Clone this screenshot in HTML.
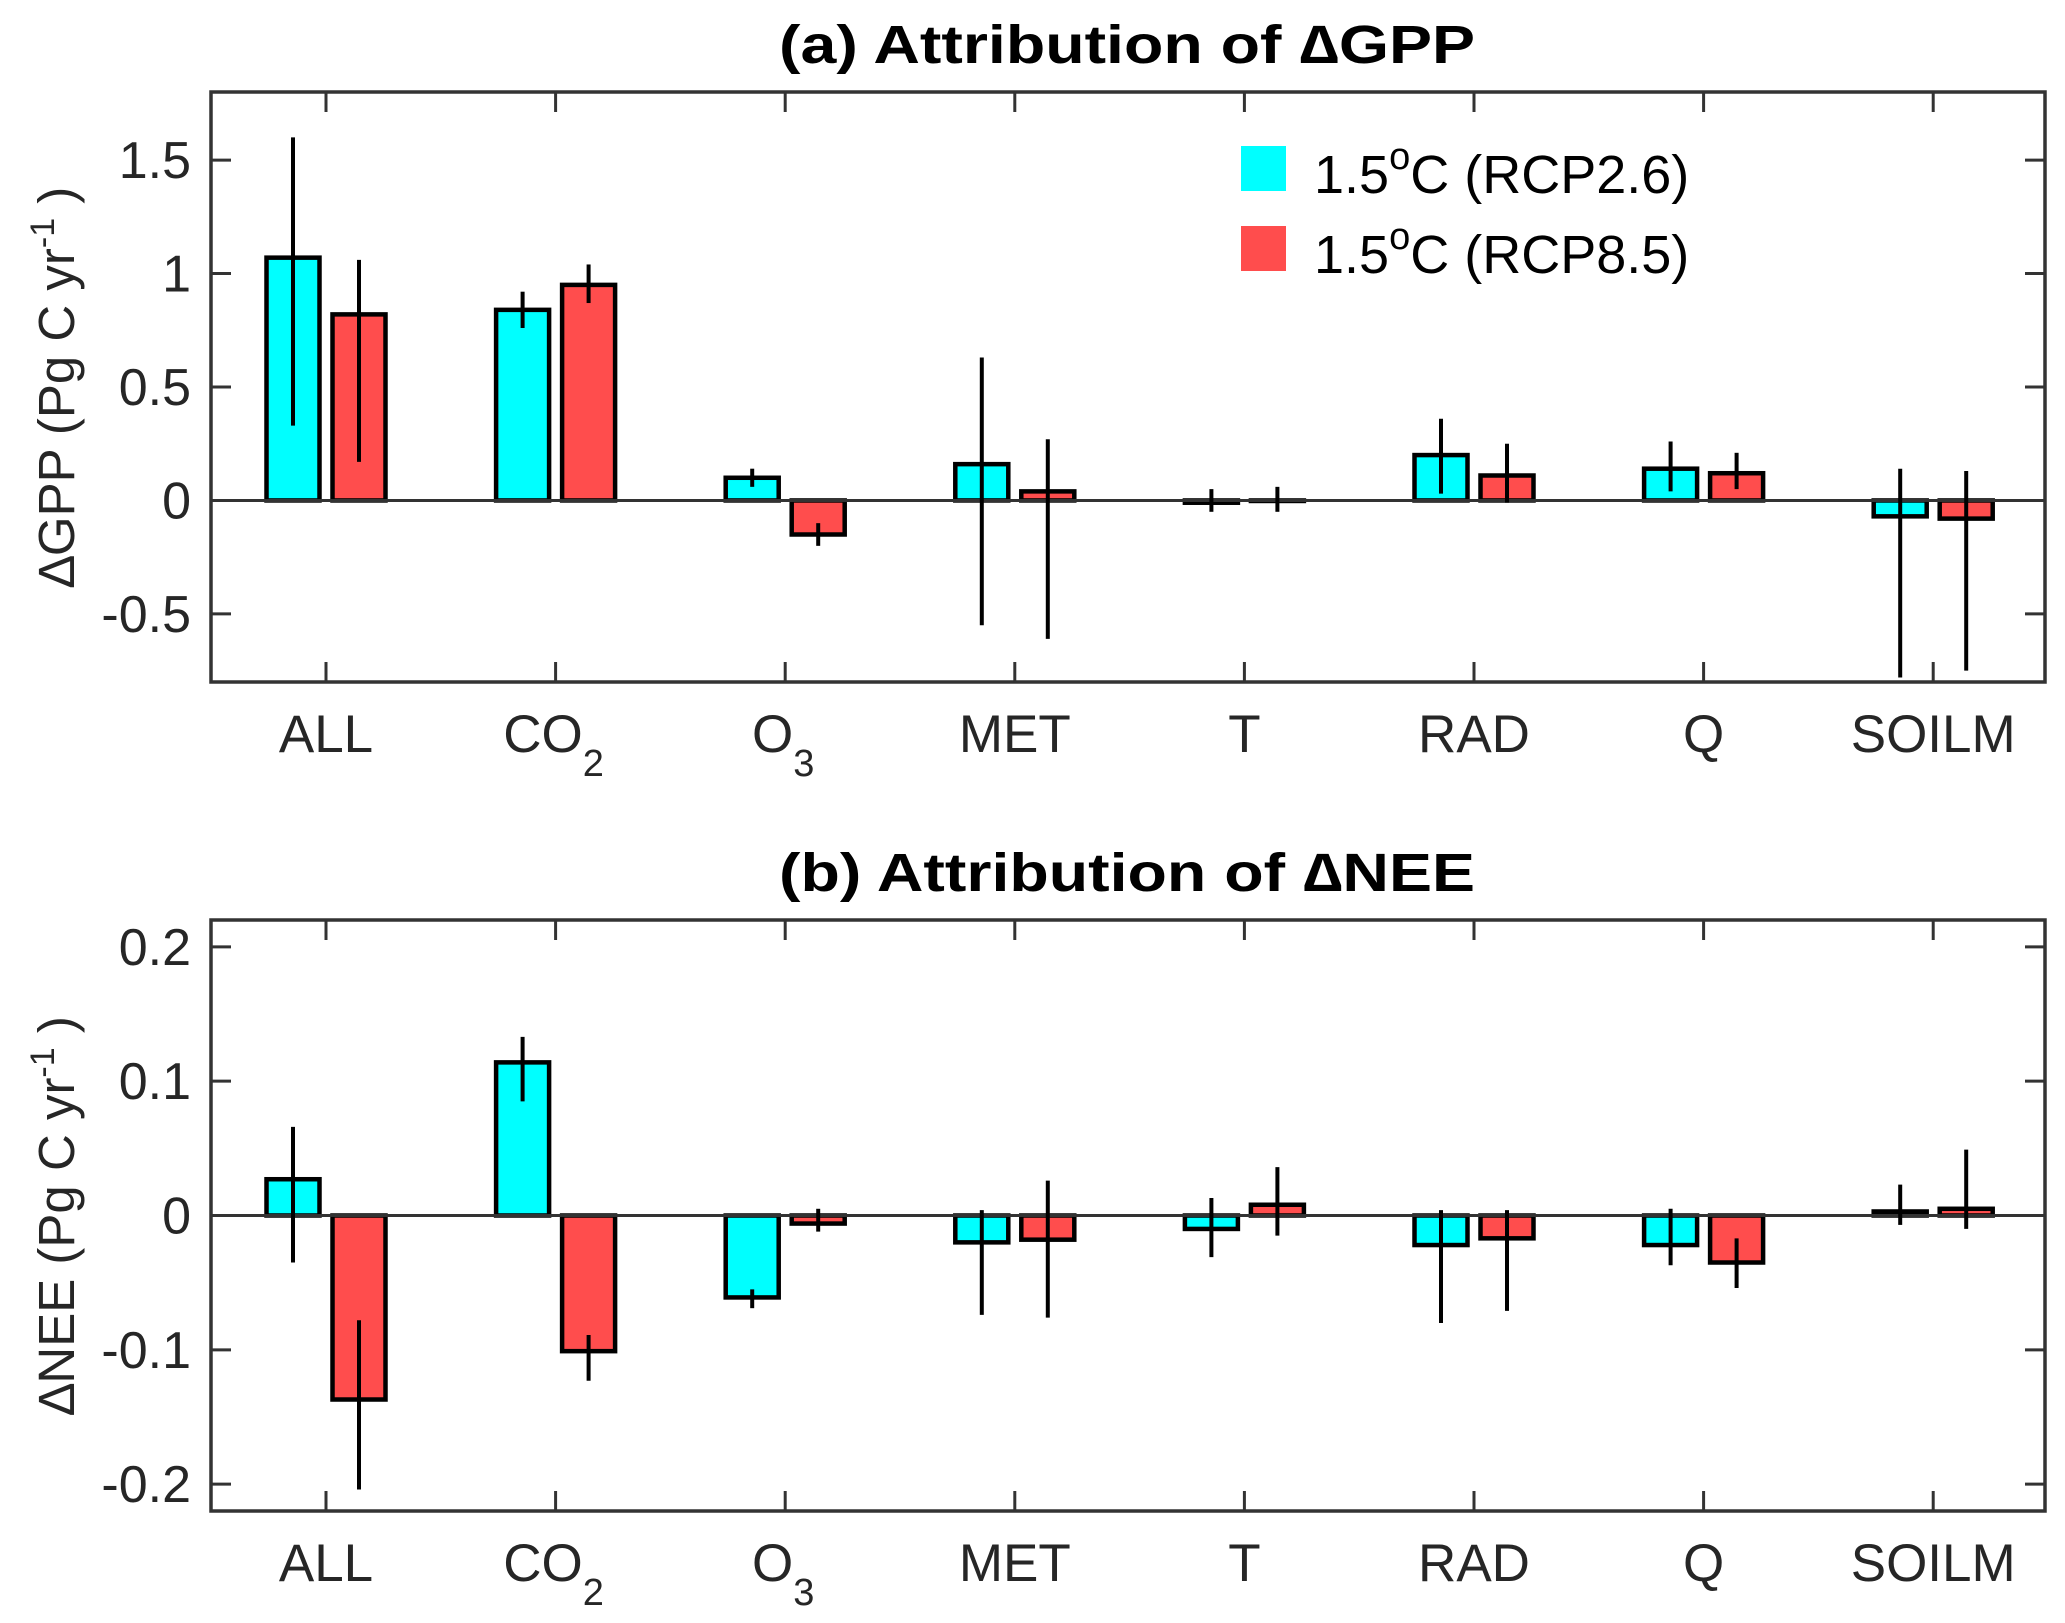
<!DOCTYPE html>
<html><head><meta charset="utf-8"><style>
html,body{margin:0;padding:0;background:#fff;}
svg{display:block;font-family:"Liberation Sans",Arial,sans-serif;}
</style></head><body>
<svg id="chart" width="2065" height="1623" viewBox="0 0 2065 1623" xmlns="http://www.w3.org/2000/svg">
<g id="pa"></g>
<g id="pb"></g>
<g>
  <rect x="1241" y="146" width="45" height="45" fill="#00ffff"/>
  <text x="1314" y="193" font-size="54" fill="#000">1.5<tspan dy="-24" font-size="38">o</tspan><tspan dy="24">C (RCP2.6)</tspan></text>
  <rect x="1241" y="226" width="45" height="45" fill="#ff4d4d"/>
  <text x="1314" y="273" font-size="54" fill="#000">1.5<tspan dy="-24" font-size="38">o</tspan><tspan dy="24">C (RCP8.5)</tspan></text>
</g>
</svg>
<script>
const categories = ["ALL","CO2","O3","MET","T","RAD","Q","SOILM"];
const gppRcp26 = [1.07,0.84,0.10,0.16,-0.01,0.20,0.14,-0.07];
const gppRcp26Hi = [1.60,0.92,0.14,0.63,0.05,0.36,0.26,0.14];
const gppRcp26Lo = [0.33,0.76,0.06,-0.55,-0.05,0.03,0.04,-0.78];
const gppRcp85 = [0.82,0.95,-0.15,0.04,0.00,0.11,0.12,-0.08];
const gppRcp85Hi = [1.06,1.04,-0.10,0.27,0.06,0.25,0.21,0.13];
const gppRcp85Lo = [0.17,0.87,-0.20,-0.61,-0.05,-0.01,0.05,-0.75];
const neeRcp26 = [0.027,0.114,-0.061,-0.020,-0.010,-0.022,-0.022,0.003];
const neeRcp26Hi = [0.066,0.133,-0.055,0.004,0.013,0.004,0.005,0.023];
const neeRcp26Lo = [-0.035,0.085,-0.069,-0.074,-0.031,-0.080,-0.037,-0.007];
const neeRcp85 = [-0.137,-0.101,-0.006,-0.018,0.008,-0.017,-0.035,0.005];
const neeRcp85Hi = [-0.078,-0.089,0.005,0.026,0.036,0.004,-0.017,0.049];
const neeRcp85Lo = [-0.204,-0.123,-0.012,-0.076,-0.015,-0.071,-0.054,-0.010];
const gppTicks = [-0.5,0,0.5,1,1.5];
const gppTickLabels = ["-0.5","0","0.5","1","1.5"];
const neeTicks = [-0.2,-0.1,0,0.1,0.2];
const neeTickLabels = ["-0.2","-0.1","0","0.1","0.2"];

const NS="http://www.w3.org/2000/svg";
function mk(parent,tag,attrs){const e=document.createElementNS(NS,tag);for(const k in attrs)e.setAttribute(k,attrs[k]);parent.appendChild(e);return e;}
const L=211,R=2045;
function xScale(i){return 326+i*229.6;}

function panel(g,top,bottom,ymin,ymax,s1,h1,l1,s2,h2,l2,ticks,tickLabels,title,titleY,ylab){
  const y=v=>bottom-(v-ymin)/(ymax-ymin)*(bottom-top);
  const ax="#333";
  [[s1,h1,l1,"#00ffff",-33,"rcp26"],[s2,h2,l2,"#ff4d4d",33,"rcp85"]].forEach(([s,h,l,c,off,nm])=>{
    s.forEach((v,i)=>{
      const cx=xScale(i)+off, y0=y(0), yv=y(v);
      const r=mk(g,"rect",{x:cx-26.5,y:Math.min(y0,yv),width:53,height:Math.max(Math.abs(y0-yv),0.5),fill:c,stroke:"#000","stroke-width":4.5});
      
      
    });
  });
  const z=mk(g,"line",{x1:L,x2:R,y1:y(0),y2:y(0),stroke:ax,"stroke-width":3});
  
  
  [[h1,l1,-33,"rcp26"],[h2,l2,33,"rcp85"]].forEach(([h,l,off,nm])=>{
    h.forEach((v,i)=>{
      const e=mk(g,"line",{x1:xScale(i)+off,x2:xScale(i)+off,y1:y(v),y2:y(l[i]),stroke:"#000","stroke-width":4});
      
      
    });
  });
  const f=mk(g,"rect",{x:L,y:top,width:R-L,height:bottom-top,fill:"none",stroke:ax,"stroke-width":3.5});
  
  
  ticks.forEach((t,i)=>{
    const yy=y(t);
    const a=mk(g,"line",{x1:L,x2:L+20,y1:yy,y2:yy,stroke:ax,"stroke-width":3});
    
    
    const b=mk(g,"line",{x1:R-20,x2:R,y1:yy,y2:yy,stroke:ax,"stroke-width":3});
    
    
    const tx=mk(g,"text",{x:191,y:yy+18,"font-size":52,fill:"#262626","text-anchor":"end"});
    tx.textContent=tickLabels[i];
    
    
  });
  categories.forEach((c,i)=>{
    const xx=xScale(i);
    const a=mk(g,"line",{x1:xx,x2:xx,y1:bottom,y2:bottom-20,stroke:ax,"stroke-width":3});
    
    
    const b=mk(g,"line",{x1:xx,x2:xx,y1:top,y2:top+20,stroke:ax,"stroke-width":3});
    
    
    const t=mk(g,"text",{x:xx,y:bottom+70,"font-size":53,fill:"#262626","text-anchor":"middle"});
    if(c==="CO2"||c==="O3"){
      t.appendChild(document.createTextNode(c[0]==="C"?"CO":"O"));
      const sp=mk(t,"tspan",{dy:24,"font-size":38});sp.textContent=c.slice(-1);
      t.setAttribute("x",xx-2);
    } else t.textContent=c;
    
    
  });
  const tt=mk(g,"text",{x:1127,y:titleY,"font-size":54,"font-weight":"bold",fill:"#000","text-anchor":"middle",textLength:696,lengthAdjust:"spacingAndGlyphs"});
  tt.textContent=title;
  
  
  const cy=(top+bottom)/2;
  const yl=mk(g,"text",{x:0,y:0,"font-size":51,fill:"#262626","text-anchor":"middle",transform:`translate(74,${cy}) rotate(-90)`});
  yl.appendChild(document.createTextNode(ylab+" (Pg C yr"));
  const sp=mk(yl,"tspan",{dy:-20,"font-size":34});sp.textContent="-1";
  const sp2=mk(yl,"tspan",{dy:20});sp2.textContent=" )";
  
  
}
panel(document.getElementById("pa"),92,682,-0.80,1.80,gppRcp26,gppRcp26Hi,gppRcp26Lo,gppRcp85,gppRcp85Hi,gppRcp85Lo,gppTicks,gppTickLabels,"(a) Attribution of \u2206GPP",63,"\u2206GPP");
panel(document.getElementById("pb"),920,1511,-0.22,0.22,neeRcp26,neeRcp26Hi,neeRcp26Lo,neeRcp85,neeRcp85Hi,neeRcp85Lo,neeTicks,neeTickLabels,"(b) Attribution of \u2206NEE",891,"\u2206NEE");
</script>
</body></html>
